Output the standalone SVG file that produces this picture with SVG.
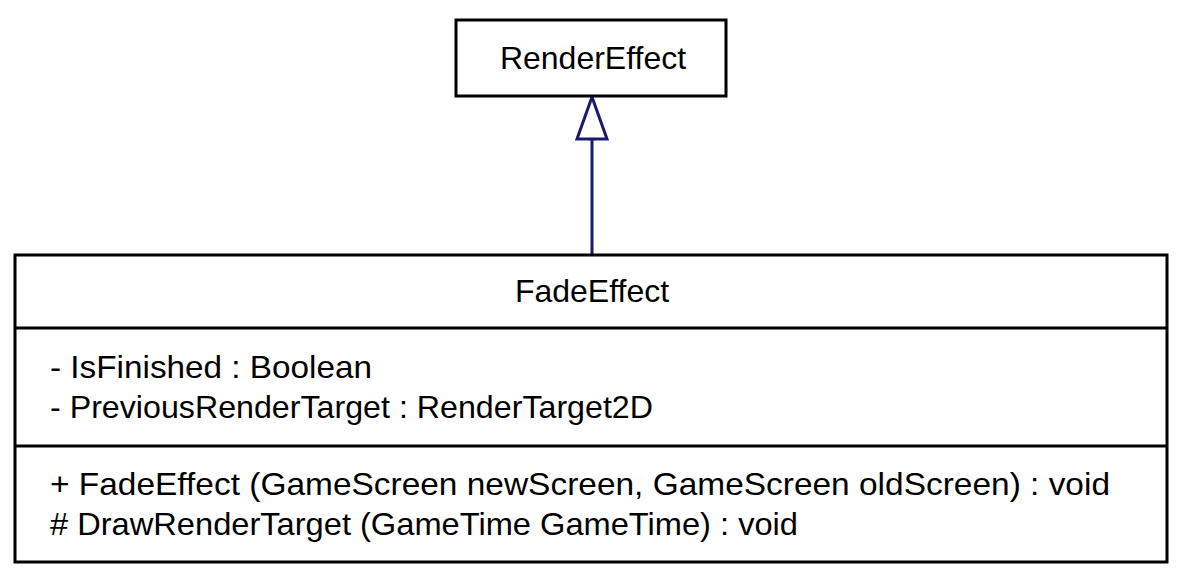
<svg xmlns="http://www.w3.org/2000/svg" width="1183" height="583" viewBox="0 0 1183 583">
<style>
.box{fill:#fff;stroke:#000;stroke-width:3}
.sep{stroke:#000;stroke-width:3}
text{font-family:"Liberation Sans",Arial,sans-serif;font-size:32px;fill:#000}
.c{text-anchor:middle}
.edge{stroke:#191970;stroke-width:3;fill:none}
.head{stroke:#191970;stroke-width:3;fill:#fff}
</style>
<rect width="1183" height="583" fill="#fff"/>
<g id="connectors">
<line class="edge" x1="592" y1="255" x2="592" y2="139"/>
<polygon class="head" points="592,97 577,139 607,139"/>
</g>
<g id="RenderEffect">
<rect class="box" x="456" y="20" width="270" height="76"/>
<text class="c" x="593" y="69">RenderEffect</text>
</g>
<g id="FadeEffect">
<rect class="box" x="15" y="255" width="1152" height="307"/>
<line class="sep" x1="15" y1="328" x2="1167" y2="328"/>
<line class="sep" x1="15" y1="446" x2="1167" y2="446"/>
<text class="c" x="592" y="302">FadeEffect</text>
<text x="50" y="378" textLength="322" lengthAdjust="spacingAndGlyphs">- IsFinished : Boolean</text>
<text x="50" y="418" textLength="603" lengthAdjust="spacingAndGlyphs">- PreviousRenderTarget : RenderTarget2D</text>
<text x="50" y="495" textLength="1060" lengthAdjust="spacingAndGlyphs">+ FadeEffect (GameScreen newScreen, GameScreen oldScreen) : void</text>
<text x="50" y="535" textLength="748" lengthAdjust="spacingAndGlyphs"># DrawRenderTarget (GameTime GameTime) : void</text>
</g>
</svg>
